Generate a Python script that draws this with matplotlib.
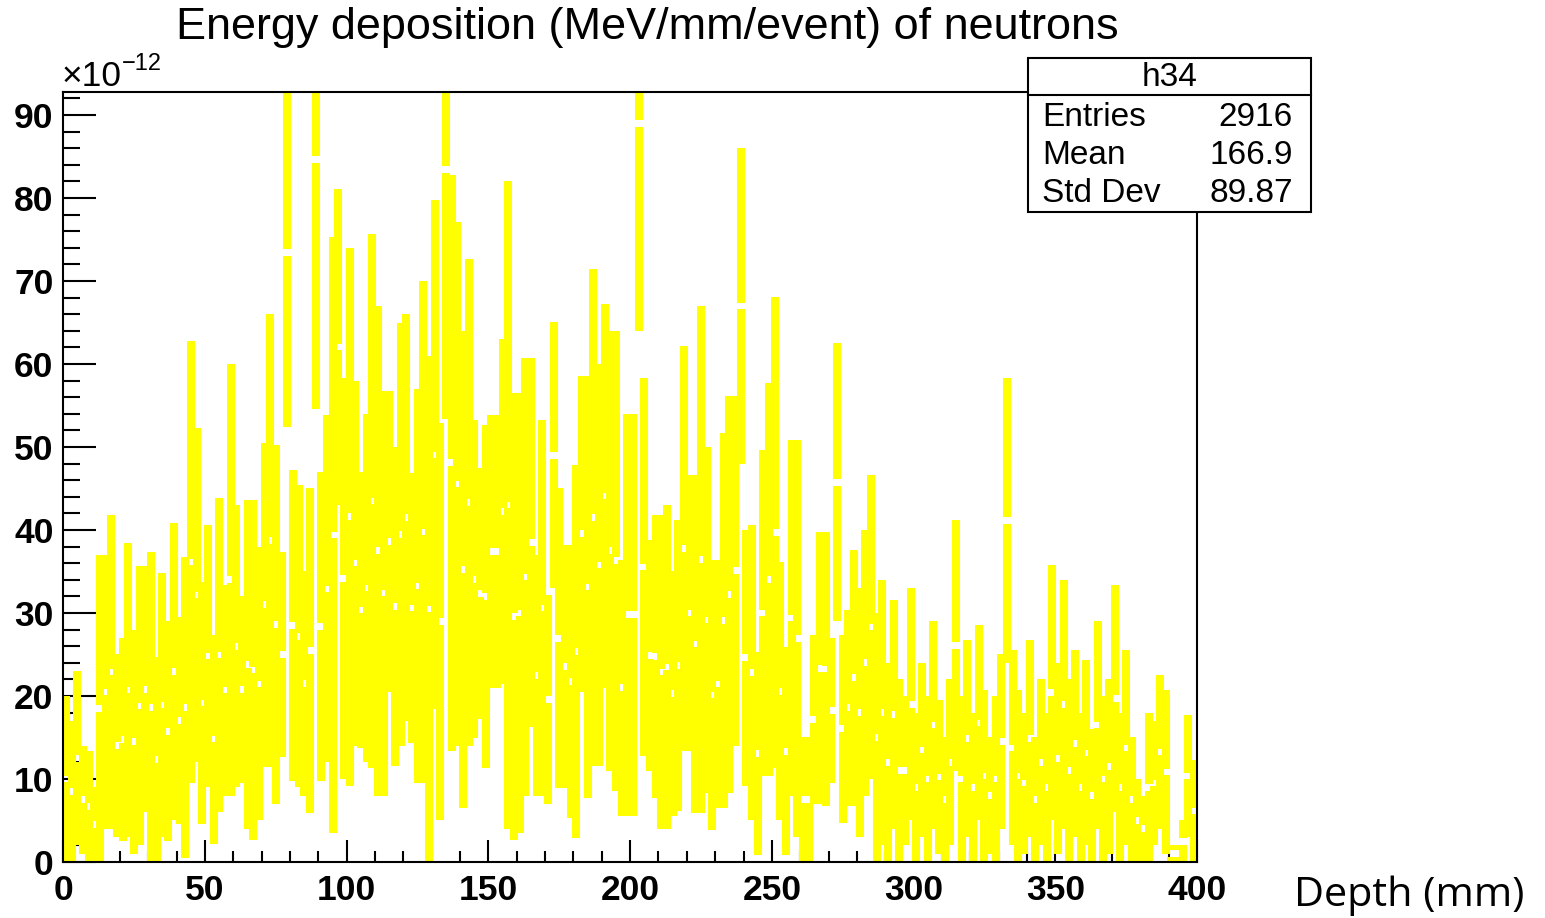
import numpy as np
import matplotlib
matplotlib.use("Agg")
import matplotlib.pyplot as plt
from matplotlib.collections import LineCollection
from matplotlib.patches import Rectangle
from matplotlib.lines import Line2D
from matplotlib.ticker import MultipleLocator

# --- histogram h34: 2 mm bins over 0-400 mm ---
# upper / lower end of each error bar, in units of 1e-12 MeV/mm/event
bin_edges = np.arange(0, 402, 2)

bar_hi = [
    20, 17, 23, 14, 13.4, 9, 37, 37, 41.8, 25,            # 0-20
    27, 38.4, 28, 35.6, 35.6, 37.3, 24.7, 34.8, 29, 40.9,  # 20-40
    29.5, 36.7, 62.8, 52.3, 33.7, 40.6, 27.4, 43.9, 33.4, 60,  # 40-60
    43, 32, 43.6, 43.6, 37.9, 50.5, 66, 50.2, 37.3, 94.4,  # 60-80
    47.2, 45.4, 35, 45, 114.6, 47, 53.8, 75.3, 81.1, 58.3,  # 80-100
    74, 58, 47, 54, 75.7, 67, 56.8, 56.8, 50, 64.9,        # 100-120
    66, 46.9, 57, 70, 61, 79.7, 52.9, 113.4, 82.8, 77.1,   # 120-140
    64, 72.6, 53.2, 47.5, 52.6, 53.8, 53.8, 63, 82, 56.5,  # 140-160
    56.5, 60.7, 60.7, 37, 53.2, 32.2, 65, 45, 38.2, 38.2,  # 160-180
    47.8, 58.6, 58.6, 71.4, 60, 67.2, 64, 64, 36.4, 54,    # 180-200
    54, 114, 58.3, 38.8, 41.8, 41.8, 43, 35, 41.2, 62.2,   # 200-220
    46.6, 46.6, 67, 50, 36.4, 36.4, 51.7, 56.2, 56.2, 86,  # 220-240
    40, 40.6, 25.3, 49.6, 57.7, 68.1, 36.1, 25.9, 50.8, 50.8,  # 240-260
    15, 15, 27.4, 39.7, 39.7, 27, 62.5, 27.4, 30.4, 37.6,  # 260-280
    33, 40, 46.6, 30, 34, 24, 31.6, 22, 20, 33,            # 280-300
    18, 24, 20, 29, 19.5, 15, 22, 41.2, 20, 26.7,          # 300-320
    18, 28.5, 20.7, 15, 20, 25, 58.3, 25.5, 20.7, 18,      # 320-340
    26.7, 15, 22, 18, 35.8, 24, 34, 22, 25.5, 18,          # 340-360
    24.3, 16, 29, 20, 22, 33.4, 18, 25.5, 15, 10,          # 360-380
    8, 18, 17, 22.5, 20.7, 2, 2, 5, 17.7, 12.3,            # 380-400
]
bar_lo = [
    0, 0, 2, 1, 0, 0, 0, 4, 4, 3,
    2.5, 3, 1, 2, 6, 0, 0, 3, 2.5, 5,
    4.6, 0.5, 9.5, 12, 4.6, 9, 2.2, 6, 8, 8,
    9, 9.5, 4, 2.7, 5, 11.5, 11.5, 7, 12.7, 52.4,
    9.8, 9, 8, 5.9, 54.6, 9.8, 12, 3.5, 43, 10,
    9.2, 14, 13.7, 12, 11.3, 8, 8, 20.5, 11.6, 14,
    17, 14.3, 9.5, 9.5, 0, 18.4, 5, 53.4, 13.4, 14,
    6.5, 14, 14.9, 17.2, 11.3, 21, 21, 21.4, 4, 2.6,
    3.5, 8, 16.3, 8, 8, 7, 33, 8.9, 8.9, 5.3,
    2.9, 20.5, 7.7, 11.6, 11.6, 21, 11, 8.6, 5.6, 5.6,
    5.6, 64, 12.8, 11, 7.7, 4, 4, 5.6, 6.2, 13.4,
    13.4, 5.9, 5.9, 8.3, 3.8, 6.5, 6.5, 8.3, 14, 48,
    9.2, 5, 0.8, 10.4, 10.4, 11.3, 5, 0.8, 8, 3,
    0, 0, 7, 7, 6.8, 9.5, 29, 4.7, 6.8, 6.8,
    3, 8, 10, 0, 2, 0, 4, 0, 2, 5,
    0, 3, 0, 4, 1, 0, 2, 11, 0, 3,
    0, 5, 0, 1, 0, 4, 24, 2, 0, 1,
    3, 0, 2, 0, 5, 1, 4, 0, 3, 0,
    2, 0, 4, 0, 1, 6, 0, 2, 0, 0,
    0, 0, 2, 4, 1, 0, 0, 0, 3, 0,
]

bar_hi = np.array(bar_hi, dtype=float)
bar_lo = np.array(bar_lo, dtype=float)
centres = 0.5 * (bin_edges[:-1] + bin_edges[1:])
values = 0.5 * (bar_hi + bar_lo)

W, H = 1545, 918
fig = plt.figure(figsize=(W / 100, H / 100), dpi=100)
fig.patch.set_facecolor("white")


def fx(px):
    return px / W


def fy(py):
    return 1 - py / H


ax = fig.add_axes([fx(63.3), fy(862), fx(1197) - fx(63.3), fy(91.7) - fy(862)])
ax.set_xlim(0, 400)
ax.set_ylim(0, 92.8)

# error bars with a small gap at the bin value (ROOT style)
gap = 0.4
segs = []
for c, v, lo, hi in zip(centres, values, bar_lo, bar_hi):
    if v - gap > lo:
        segs.append([(c, lo), (c, v - gap)])
    if hi > v + gap:
        segs.append([(c, v + gap), (c, hi)])
lc = LineCollection(segs, colors="#ffff00", linewidths=5.8, capstyle="butt")
ax.add_collection(lc)

for s in ax.spines.values():
    s.set_linewidth(1.5)
    s.set_color("black")

ax.xaxis.set_major_locator(MultipleLocator(50))
ax.xaxis.set_minor_locator(MultipleLocator(10))
ax.yaxis.set_major_locator(MultipleLocator(10))
ax.yaxis.set_minor_locator(MultipleLocator(2))
ax.tick_params(axis="y", which="major", direction="in", length=24, width=1.5, pad=7)
ax.tick_params(axis="y", which="minor", direction="in", length=12, width=1.5)
ax.tick_params(axis="x", which="major", direction="in", length=16, width=1.5, pad=9)
ax.tick_params(axis="x", which="minor", direction="in", length=8, width=1.5)
for lab in ax.get_xticklabels() + ax.get_yticklabels():
    lab.set_family("Liberation Sans")
    lab.set_fontsize(25.5)
    lab.set_fontweight("bold")

# exponent label
fig.text(fx(62), fy(86), "\u00d710", fontsize=25.5, family="Liberation Sans", va="baseline", ha="left")
fig.text(fx(122), fy(70), "\u221212", fontsize=17, family="Liberation Sans", va="baseline", ha="left")

# title
fig.text(fx(647), fy(28), "Energy deposition (MeV/mm/event) of neutrons",
         fontsize=32.4, family="Liberation Sans", ha="center", va="center")

# stats box
x0, x1, y0, y1 = 1028, 1311, 58, 212
fig.patches.append(Rectangle((fx(x0), fy(y1)), fx(x1) - fx(x0), fy(y0) - fy(y1),
                             transform=fig.transFigure, facecolor="white",
                             edgecolor="black", linewidth=1.5, zorder=5))
fig.lines.append(Line2D([fx(x0), fx(x1)], [fy(95), fy(95)], transform=fig.transFigure,
                        color="black", linewidth=1.5, zorder=6))
stat_font = dict(fontsize=24, family="Liberation Sans", zorder=7, va="center")
fig.text(fx(1170), fy(77), "h34", ha="center", **stat_font)
stat_names = ["Entries", "Mean", "Std Dev"]
stat_values = ["2916", "166.9", "89.87"]
for i, (n, val) in enumerate(zip(stat_names, stat_values)):
    yy = 117 + i * 38
    fig.text(fx(1042), fy(yy), n, ha="left", **stat_font)
    fig.text(fx(1293), fy(yy), val, ha="right", **stat_font)

# axis title placed outside, to the right
fig.text(fx(1409), fy(896), "Depth (mm)", fontsize=29.8, family="Open Sans", ha="center", va="center")

fig.savefig("out.png", dpi=100)
